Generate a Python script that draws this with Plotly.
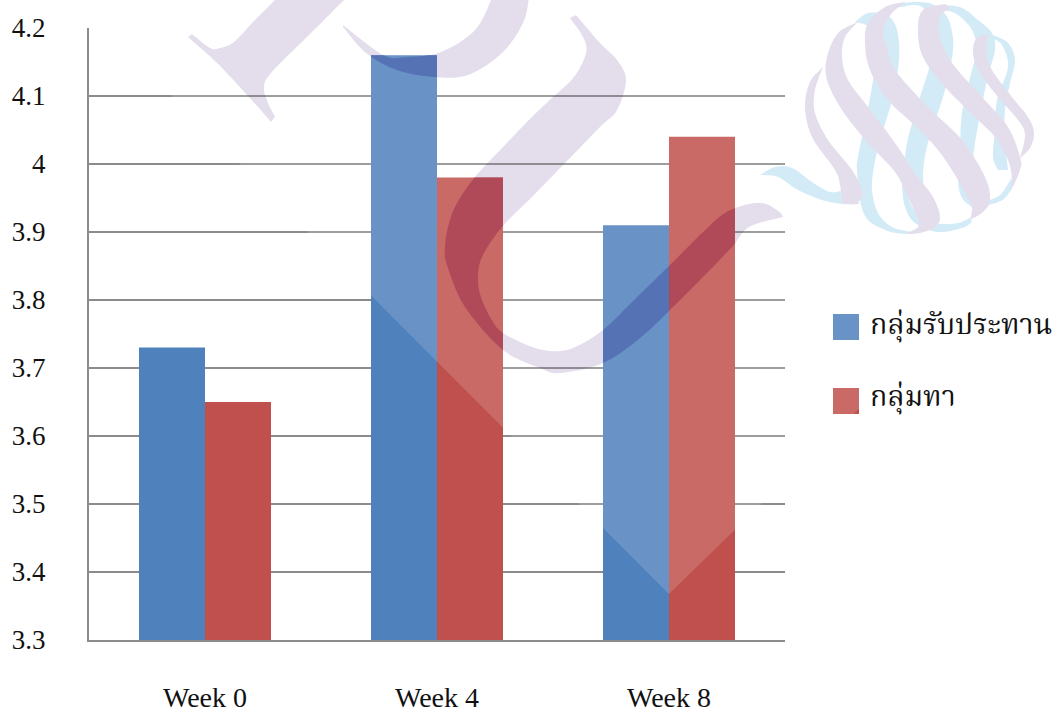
import plotly.graph_objects as go

# Chart data
weeks = ["Week 0", "Week 4", "Week 8"]
placebo_group = [3.73, 4.16, 3.91]
treated_group = [3.65, 3.98, 4.04]
placebo_name = "กลุ่มรับประทาน"
treated_name = "กลุ่มทา"
tick_values = [3.3, 3.4, 3.5, 3.6, 3.7, 3.8, 3.9, 4.0, 4.1, 4.2]
tick_labels = ["3.3", "3.4", "3.5", "3.6", "3.7", "3.8", "3.9", "4", "4.1", "4.2"]

BLUE, RED = "#4F81BD", "#C0504D"
BLUE_INK, RED_INK = "#5472B4", "#B04A58"
LILAC, SKY = "#E0D9E9", "#CCE8F6"
SERIF = "Liberation Serif"
THAI_SERIF = "Liberation Serif, Noto Serif Thai, Norasi, FreeSerif, TH Sarabun New, serif"

# Plot frame on the page, in pixels
LEFT, RIGHT, TOP, BOTTOM = 89, 785, 28, 640
Y_MIN, Y_MAX = 3.3, 4.2
BAR_W = 66
GROUP_W = (RIGHT - LEFT) / len(weeks)

# Watermark outlines, page pixels. Each outline is a list of smooth runs joined at sharp corners.
SERIF_STROKE = [
    [(346, -2), (309, 35), (271, 73), (264, 88), (268, 103), (275, 117)],
    [(275, 117), (271, 122)],
    [(271, 122), (249, 97), (217, 63), (188, 37)],
    [(188, 37), (192, 34)],
    [(192, 34), (210, 48), (220, 48), (234, 42), (255, 20), (277, -2)],
]
CRESCENT = [
    [(343, 25), (383, 55), (407, 57), (441, 52), (475, 30), (492, -2)],
    [(492, -2), (529, -2)],
    [(529, -2), (523, 23), (502, 53), (468, 75), (434, 77), (397, 70), (366, 53), (343, 27)],
]
SWOOP = [
    [(570, 18), (583, 37), (586, 53), (574, 77), (553, 97), (532, 117), (503, 147), (475, 177),
     (456, 205), (448, 227), (445, 247), (447, 265), (465, 307), (503, 350), (540, 368), (560, 373),
     (603, 363), (640, 338), (670, 310), (700, 280), (732, 247), (749, 227), (783, 217)],
    [(783, 217), (781, 213)],
    [(781, 213), (766, 204), (749, 204), (725, 213), (702, 233), (668, 267), (634, 300),
     (603, 330), (573, 348), (550, 351), (527, 345), (503, 333), (493, 322), (482, 300), (478, 280),
     (482, 257), (502, 227), (532, 197), (566, 162), (600, 127), (617, 110), (626, 80), (617, 60),
     (600, 43), (576, 15)],
    [(576, 15), (570, 18)],
]
LOGO_SKY = [
    [[(760, 175), (775, 167), (792, 168), (812, 182), (830, 192), (845, 190)],
     [(845, 190), (860, 204)],
     [(860, 204), (842, 204), (822, 200), (798, 190), (778, 177), (760, 175)]],
    [[(855, 22), (868, 13), (887, 15), (897, 30), (899, 60), (892, 100), (880, 140), (874, 167),
      (872, 190), (878, 213), (892, 227), (912, 232)],
     [(912, 232), (905, 234)],
     [(905, 234), (888, 231), (868, 220), (860, 200), (857, 170), (858, 157), (867, 113), (873, 80),
      (875, 50), (870, 28), (855, 22)]],
    [[(898, 4), (915, 2), (932, 4), (945, 14), (951, 27), (953, 50), (945, 90), (928, 143), (923, 173),
      (925, 195)],
     [(925, 195), (902, 187)],
     [(902, 187), (907, 143), (920, 97), (930, 63), (930, 30), (925, 10), (915, 5), (900, 7), (898, 4)]],
    [[(902, 187), (905, 207), (915, 223), (938, 232), (962, 228), (972, 222)],
     [(972, 222), (970, 218)],
     [(970, 218), (958, 223), (940, 224), (925, 222), (917, 215), (908, 197), (908, 185), (902, 187)]],
    [[(945, 5), (962, 8), (978, 20), (992, 33), (995, 50), (987, 80), (975, 143), (972, 175), (972, 207)],
     [(972, 207), (962, 198), (958, 180), (960, 150), (962, 113), (972, 70), (977, 50), (972, 30),
      (958, 15), (945, 10)],
     [(945, 10), (945, 5)]],
    [[(993, 35), (1008, 43), (1015, 60), (1010, 83), (1005, 110), (1005, 140), (1008, 170)],
     [(1008, 170), (998, 170)],
     [(998, 170), (993, 157), (995, 130), (997, 100), (1008, 67), (1002, 45), (992, 38), (993, 35)]],
    [[(985, 206), (1005, 198), (1018, 175)],
     [(1018, 175), (1012, 178), (1000, 195), (985, 202), (985, 206)]],
]
LOGO_LILAC = [
    [[(823, 67), (810, 82), (805, 107), (812, 137), (835, 170), (840, 185), (842, 203)],
     [(842, 203), (855, 204), (862, 198)],
     [(862, 198), (862, 190), (852, 170), (828, 140), (815, 113), (815, 90), (823, 67)]],
    [[(858, 22), (838, 33), (827, 57), (827, 80), (842, 110), (868, 143), (895, 172), (908, 197),
      (917, 217), (918, 227), (905, 234)],
     [(905, 234), (920, 233), (935, 227), (940, 217), (933, 197), (915, 173), (895, 143), (868, 107),
      (848, 80), (842, 57), (845, 37), (858, 22)]],
    [[(905, 2), (885, 7), (868, 23), (865, 43), (870, 70), (888, 100), (912, 123), (938, 150), (958, 180),
      (967, 197), (972, 208), (970, 220)],
     [(970, 220), (983, 212), (990, 200), (985, 177), (962, 140), (928, 107), (895, 70), (887, 47),
      (883, 30), (892, 13), (905, 3)]],
    [[(945, 4), (923, 10), (918, 30), (923, 57), (945, 87), (978, 120), (995, 137), (1008, 160),
      (1012, 180), (1010, 193)],
     [(1010, 193), (1020, 170), (1020, 157), (1008, 127), (982, 97), (952, 63), (940, 37), (940, 17), (950, 8)],
     [(950, 8), (945, 4)]],
    [[(992, 35), (978, 37), (973, 50), (978, 70), (998, 97), (1018, 120), (1025, 135), (1020, 158)],
     [(1020, 158), (1030, 148), (1034, 133), (1028, 117), (1012, 97), (992, 70), (986, 50), (988, 37), (992, 35)]],
]


def flatten(runs, steps=10):
    """Turn smooth runs into one dense polygon with Catmull-Rom sampling."""
    out = []
    for run in runs:
        pts = [run[0]] + list(run) + [run[-1]]
        for i in range(1, len(pts) - 2):
            p0, p1, p2, p3 = pts[i - 1], pts[i], pts[i + 1], pts[i + 2]
            for s in range(steps):
                t = s / steps
                out.append(tuple(
                    0.5 * (2 * p1[k] + (p2[k] - p0[k]) * t
                           + (2 * p0[k] - 5 * p1[k] + 4 * p2[k] - p3[k]) * t * t
                           + (3 * p1[k] - p0[k] - 3 * p2[k] + p3[k]) * t ** 3)
                    for k in (0, 1)))
        out.append(run[-1])
    return out


def clip_edge(poly, inside, cross):
    out = []
    for a, b in zip(poly, poly[1:] + poly[:1]):
        if inside(a):
            out.append(a)
            if not inside(b):
                out.append(cross(a, b))
        elif inside(b):
            out.append(cross(a, b))
    return out


def clip_rect(poly, x0, y0, x1, y1):
    """Sutherland-Hodgman clip of a polygon to an axis-aligned box."""
    def at_x(x):
        return lambda a, b: (x, a[1] + (b[1] - a[1]) * (x - a[0]) / (b[0] - a[0]))

    def at_y(y):
        return lambda a, b: (a[0] + (b[0] - a[0]) * (y - a[1]) / (b[1] - a[1]), y)

    for inside, cross in (
        (lambda p: p[0] >= x0, at_x(x0)),
        (lambda p: p[0] <= x1, at_x(x1)),
        (lambda p: p[1] >= y0, at_y(y0)),
        (lambda p: p[1] <= y1, at_y(y1)),
    ):
        if not poly:
            return []
        poly = clip_edge(poly, inside, cross)
    return poly


def area_shape(poly, fill, layer="below", opacity=1):
    """Filled paper-referenced polygon from page-pixel points."""
    w, h = RIGHT - LEFT, BOTTOM - TOP
    cmds = [f"{(x - LEFT) / w:.5f} {(BOTTOM - y) / h:.5f}" for x, y in poly]
    return dict(type="path", xref="paper", yref="paper", layer=layer, opacity=opacity,
                path="M" + " L".join(cmds) + " Z", fillcolor=fill, line_width=0)


def box(x0, y0, x1, y1):
    return [(x0, y0), (x1, y0), (x1, y1), (x0, y1)]


fig = go.Figure()
fig.add_bar(name=placebo_name, x=weeks, y=placebo_group, marker_color=BLUE, marker_line_width=0)
fig.add_bar(name=treated_name, x=weeks, y=treated_group, marker_color=RED, marker_line_width=0)

shapes = []
# Watermark beneath the gridlines and bars
for outline in (SERIF_STROKE, CRESCENT, SWOOP):
    shapes.append(area_shape(flatten(outline), LILAC))
for ribbon in LOGO_SKY:
    shapes.append(area_shape(flatten(ribbon), SKY))
for ribbon in LOGO_LILAC:
    shapes.append(area_shape(flatten(ribbon), LILAC))

# Legend swatches
shapes.append(area_shape(box(833, 314, 859, 340), BLUE))
shapes.append(area_shape(box(833, 388, 859, 414), RED))

# Pale wash across the upper part of the page, over the bars
shapes.append(area_shape([(75, -1), (669, 594), (1065, 208), (1065, -1)], "#FFFFFF", layer="above", opacity=0.15))

# Watermark ink showing through the bars
for g, week_vals in enumerate(zip(placebo_group, treated_group)):
    center = LEFT + GROUP_W * (g + 0.5)
    for s, value in enumerate(week_vals):
        x0 = center + (s - 1) * BAR_W
        y0 = BOTTOM - (value - Y_MIN) / (Y_MAX - Y_MIN) * (BOTTOM - TOP)
        for poly in (flatten(CRESCENT), flatten(SWOOP)):
            piece = clip_rect(poly, x0, y0, x0 + BAR_W, BOTTOM)
            if piece:
                shapes.append(area_shape(piece, BLUE_INK if s == 0 else RED_INK, layer="above"))

annotations = [
    dict(text=placebo_name, x=868, y=326),
    dict(text=treated_name, x=868, y=398),
]
for a in annotations:
    a.update(xref="paper", yref="paper", xanchor="left", yanchor="middle", showarrow=False,
             font=dict(family=THAI_SERIF, size=28.5, color="#111111"))
    a["x"] = (a["x"] - LEFT) / (RIGHT - LEFT)
    a["y"] = (BOTTOM - a["y"]) / (BOTTOM - TOP)

fig.update_layout(
    width=1064, height=713,
    margin=dict(l=LEFT, r=1064 - RIGHT, t=TOP, b=713 - BOTTOM, pad=0, autoexpand=False),
    paper_bgcolor="white", plot_bgcolor="rgba(0,0,0,0)",
    barmode="group", bargap=1 - 2 * BAR_W / GROUP_W, bargroupgap=0,
    showlegend=False,
    font=dict(family=SERIF, size=27, color="#111111"),
    shapes=shapes, annotations=annotations,
    xaxis=dict(type="category", range=[-0.5, 2.5], showgrid=False, ticks="",
               showline=True, linecolor="rgba(0,0,0,0.45)", linewidth=2, automargin=False,
               tickfont_size=28, ticklabelstandoff=31, zeroline=False),
    yaxis=dict(range=[Y_MIN, Y_MAX], tickmode="array", tickvals=tick_values, ticktext=tick_labels,
               showgrid=True, gridcolor="rgba(0,0,0,0.45)", gridwidth=1.5, ticks="",
               showline=True, linecolor="rgba(0,0,0,0.45)", linewidth=2, automargin=False,
               ticklabelstandoff=36, zeroline=False),
)

fig.write_html("out.html")
